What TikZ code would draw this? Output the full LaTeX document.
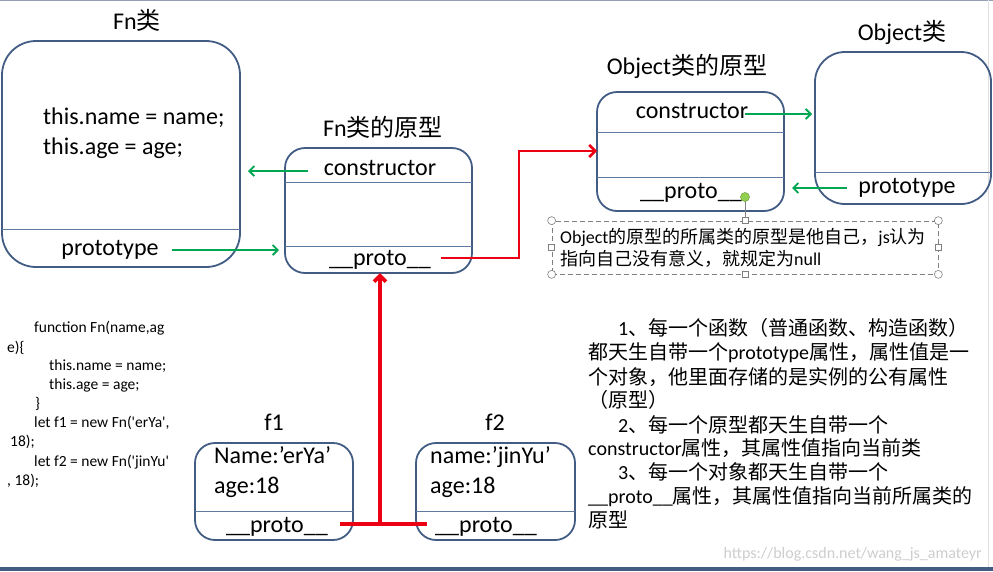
\documentclass[tikz,border=0pt]{standalone}
\usepackage{fontspec}
\setmainfont{Carlito}
\newfontfamily\cjk{Noto Sans CJK SC}
\usetikzlibrary{arrows.meta}
\definecolor{boxc}{RGB}{66,92,132}
\definecolor{divc}{RGB}{95,122,160}
\definecolor{grn}{RGB}{0,166,81}
\definecolor{redl}{RGB}{236,0,20}
\definecolor{dotg}{RGB}{146,208,80}
\definecolor{hand}{RGB}{128,128,128}
\definecolor{topl}{RGB}{150,160,180}
\definecolor{wmark}{RGB}{205,205,205}
\begin{document}
\begin{tikzpicture}[x=1pt,y=-1pt,
  box/.style={draw=boxc,line width=1.8pt,rounded corners=#1,inner sep=0pt,outer sep=0pt},
  divline/.style={draw=divc,line width=0.9pt},
  lbl/.style={font=\fontsize{24}{28}\selectfont,anchor=base,inner sep=0pt},
  txt/.style={font=\fontsize{24}{28}\selectfont,inner sep=0pt},
  garrow/.style={draw=grn,line width=1.8pt,-{Straight Barb[length=5pt,width=10pt]}},
  rline/.style={draw=redl,line width=2.5pt},
  rthick/.style={draw=redl,line width=3.8pt},
  rtip/.style={-{Straight Barb[length=6pt,width=12pt]}},
  code/.style={font=\fontsize{15.5}{18}\selectfont,anchor=base west,inner sep=0pt},
  note/.style={font=\fontsize{18}{22}\selectfont,anchor=base west,inner sep=0pt},
  rtext/.style={font=\fontsize{20}{24}\selectfont,anchor=base west,inner sep=0pt},
  hcirc/.style={circle,draw=hand,fill=white,line width=0.6pt,minimum size=8pt,inner sep=0pt},
  hsq/.style={rectangle,draw=hand,fill=white,line width=0.6pt,minimum size=6pt,inner sep=0pt},
]
\useasboundingbox (0,0) rectangle (993,571);
% frame
\draw[topl,line width=1pt] (0,0.5) -- (993,0.5);
\draw[black!12,line width=1pt] (988,0) -- (988,567);
\fill[boxc] (0,567) rectangle (993,571);

% boxes
\node[box=34pt,minimum width=238pt,minimum height=226pt] (fn) at (121,154) {};
\node[box=20pt,minimum width=187pt,minimum height=125pt] (fnp) at (378.5,210.5) {};
\node[box=20pt,minimum width=187pt,minimum height=119pt] (op) at (690.5,151.5) {};
\node[box=30pt,minimum width=176pt,minimum height=152pt] (ob) at (903,128) {};
\node[box=20pt,minimum width=158pt,minimum height=97pt] (f1) at (274,491.5) {};
\node[box=20pt,minimum width=159pt,minimum height=97pt] (f2) at (495.5,491.5) {};

% dividers
\draw[divline] (2,229) -- (240,229);
\draw[divline] (285,182) -- (472,182);
\draw[divline] (285,246) -- (472,246);
\draw[divline] (597,132) -- (784,132);
\draw[divline] (597,177) -- (784,177);
\draw[divline] (815,172) -- (991,172);
\draw[divline] (195,511) -- (353,511);
\draw[divline] (416,511) -- (575,511);

% titles
\node[lbl] (lfn) at (137,29) {Fn{\cjk 类}};
\node[lbl] (lfnp) at (383,136) {Fn{\cjk 类的原型}};
\node[lbl] (lob) at (902,40) {Object{\cjk 类}};
\node[lbl] (lop) at (687,74) {Object{\cjk 类的原型}};
\node[lbl] (lf1) at (274,430) {f1};
\node[lbl] (lf2) at (495,430) {f2};

% box texts
\node[txt,anchor=base west] (fnt1) at (43,124) {this.name = name;};
\node[txt,anchor=base west] (fnt2) at (43,154) {this.age = age;};
\node[txt,anchor=base] (fnpt) at (110,255) {prototype};
\node[txt,anchor=base] (fnpc) at (380,175) {constructor};
\node[txt,anchor=base] (fnpp) at (380,265) {\_\_proto\_\_};
\node[txt,anchor=base] (opc) at (692,118) {constructor};
\node[txt,anchor=base] (opp) at (691,198) {\_\_proto\_\_};
\node[txt,anchor=base] (obp) at (907,193) {prototype};
\node[txt,anchor=base west] (f1a) at (214,463) {Name:’erYa’};
\node[txt,anchor=base west] (f1b) at (214,493) {age:18};
\node[txt,anchor=base] (f1p) at (277,532) {\_\_proto\_\_};
\node[txt,anchor=base west] (f2a) at (430,463) {name:’jinYu’};
\node[txt,anchor=base west] (f2b) at (430,493) {age:18};
\node[txt,anchor=base] (f2p) at (486,532) {\_\_proto\_\_};

% green arrows
\coordinate (g1s) at (308,171); \coordinate (g1e) at (248,171);
\coordinate (g2s) at (172,250); \coordinate (g2e) at (279,250);
\coordinate (g3s) at (745,114); \coordinate (g3e) at (812,114);
\coordinate (g4s) at (847,188); \coordinate (g4e) at (792,188);
\draw[garrow] (g1s) -- (g1e);
\draw[garrow] (g2s) -- (g2e);
\draw[garrow] (g3s) -- (g3e);
\draw[garrow] (g4s) -- (g4e);

% red connectors
\coordinate (r1) at (441,258); \coordinate (rc) at (519,151);
\draw[rline,rtip] (r1) -| (rc) -- (op.west |- rc);
\coordinate (rl) at (340,524); \coordinate (rr) at (427,524); \coordinate (rj) at (380,524);
\draw[rthick] (rl) -- (rr);
\draw[rthick,rtip] (rj) -- (rj |- fnp.south);

% note box with handles
\node[draw=hand,line width=0.7pt,dash pattern=on 5pt off 3pt,minimum width=386pt,minimum height=53pt,inner sep=0pt] (nb) at (745,247.5) {};
\draw[hand,line width=0.6pt] (745,197) -- (nb.north);
\node[circle,fill=dotg,draw=dotg!75!black,line width=0.5pt,minimum size=9pt,inner sep=0pt] (dot) at (745,197) {};
\foreach \a/\n in {north west/a,north east/b,south west/c,south east/d}
  \node[hcirc] (hc\n) at (nb.\a) {};
\foreach \a/\n in {north/a,south/b,west/c,east/d}
  \node[hsq] (hs\n) at (nb.\a) {};
\node[note] (n1) at (560,243) {Object{\cjk 的原型的所属类的原型是他自己，}js{\cjk 认为}};
\node[note] (n2) at (560,265) {{\cjk 指向自己没有意义，就规定为}null};

% code
\node[code] (c1) at (34,332) {function Fn(name,ag};
\node[code] (c2) at (7,352) {e)\{};
\node[code] (c3) at (49,370) {this.name = name;};
\node[code] (c4) at (49,389) {this.age = age;};
\node[code] (c5) at (35,408) {\}};
\node[code] (c6) at (34,427) {let f1 = new Fn(\textquotesingle erYa\textquotesingle,};
\node[code] (c7) at (10,446) {18);};
\node[code] (c8) at (34,466) {let f2 = new Fn(\textquotesingle jinYu\textquotesingle};
\node[code] (c9) at (7,485) {, 18);};

% right text
\node[rtext] (x1) at (618,335) {1{\cjk 、每一个函数（普通函数、构造函数）}};
\node[rtext] (x2) at (588,359) {{\cjk 都天生自带一个}prototype{\cjk 属性，属性值是一}};
\node[rtext] (x3) at (588,384) {{\cjk 个对象，他里面存储的是实例的公有属性}};
\node[rtext] (x4) at (588,407) {{\cjk （原型）}};
\node[rtext] (x5) at (618,432) {2{\cjk 、每一个原型都天生自带一个}};
\node[rtext] (x6) at (588,455) {constructor{\cjk 属性，其属性值指向当前类}};
\node[rtext] (x7) at (618,479) {3{\cjk 、每一个对象都天生自带一个}};
\node[rtext] (x8) at (588,503) {\_\_proto\_\_{\cjk 属性，其属性值指向当前所属类的}};
\node[rtext] (x9) at (588,527) {{\cjk 原型}};

% watermark
\node[font=\fontsize{16}{18}\selectfont,text=wmark,anchor=base east,inner sep=0pt] (wm) at (982,558) {https://blog.csdn.net/wang\_js\_amateyr};
\end{tikzpicture}
\end{document}
